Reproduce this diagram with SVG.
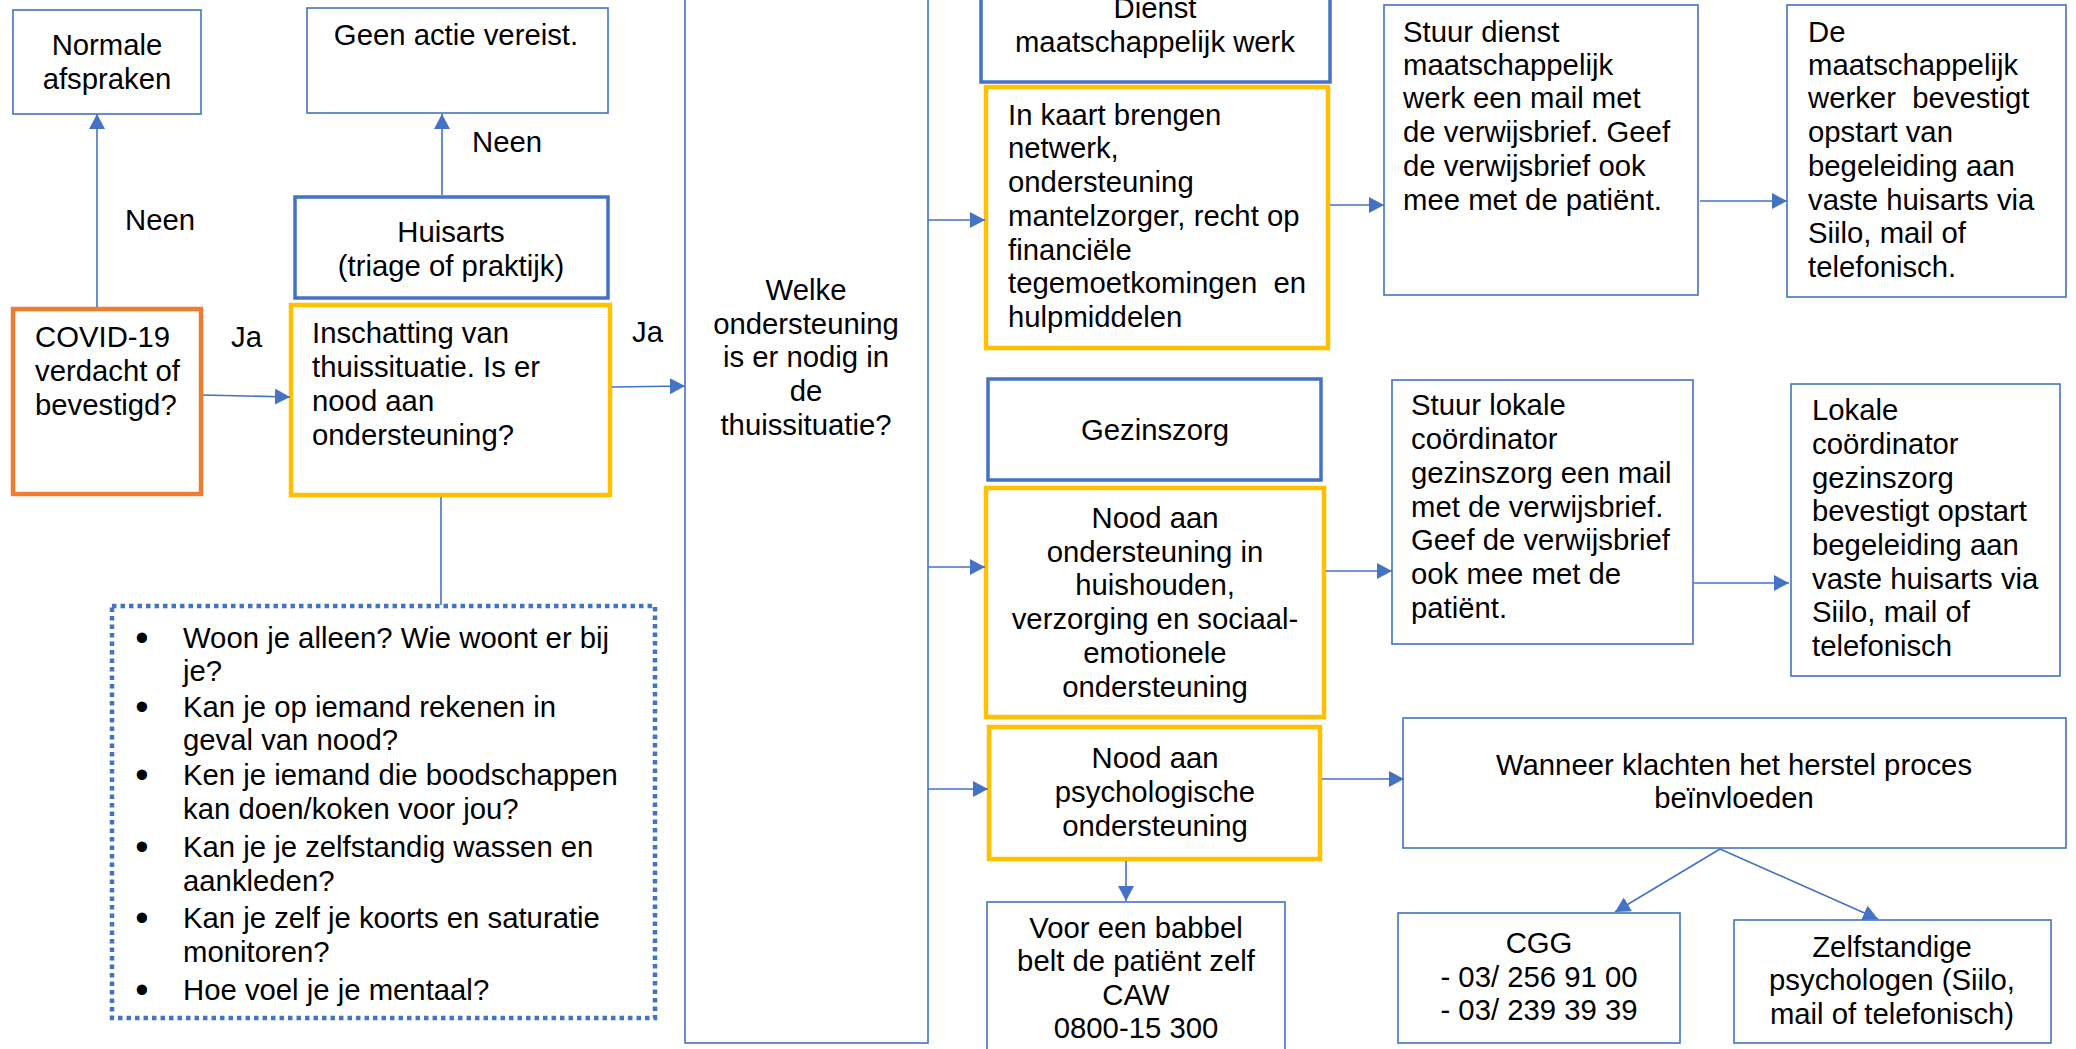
<svg xmlns="http://www.w3.org/2000/svg" width="2076" height="1049" viewBox="0 0 2076 1049">
<style>
.t{font-family:"Liberation Sans",Arial,sans-serif;font-size:29.3px;fill:#000}
.m{text-anchor:middle}
.bl{font-family:"Liberation Sans",Arial,sans-serif;font-size:38px;fill:#000;text-anchor:middle}
.b{fill:#fff;stroke:#4472C4;stroke-width:1.6}
.bk{fill:#fff;stroke:#4472C4;stroke-width:3.5}
.y{fill:#fff;stroke:#FFC000;stroke-width:4.5}
.o{fill:#fff;stroke:#ED7D31;stroke-width:4.5}
.d{fill:#fff;stroke:#4472C4;stroke-width:4.5;stroke-dasharray:4.5 4}
.c{fill:none;stroke:#4472C4;stroke-width:1.6}
.a{marker-end:url(#ah)}
</style>
<defs>
<marker id="ah" markerUnits="userSpaceOnUse" markerWidth="16" markerHeight="16" refX="15" refY="8" orient="auto"><path d="M0,0 L15,8 L0,16 z" fill="#4472C4"/></marker>
</defs>
<rect width="2076" height="1049" fill="#fff"/>

<g id="n_normale"><rect class="b" x="13" y="10" width="188" height="104"/>
<text class="t m" x="107"><tspan x="107" y="55">Normale</tspan><tspan x="107" y="89">afspraken</tspan></text></g>

<g id="n_geen"><rect class="b" x="307" y="8" width="301" height="105"/>
<text class="t m" x="456" y="45">Geen actie vereist.</text></g>

<g id="n_huisarts"><rect class="bk" x="295" y="197" width="313" height="101"/>
<text class="t m"><tspan x="451" y="242">Huisarts</tspan><tspan x="451" y="276">(triage of praktijk)</tspan></text></g>

<g id="n_covid"><rect class="o" x="13" y="309" width="188" height="185"/>
<text class="t"><tspan x="35" y="347">COVID-19</tspan><tspan x="35" y="381">verdacht of</tspan><tspan x="35" y="415">bevestigd?</tspan></text></g>

<g id="n_inschatting"><rect class="y" x="291" y="305" width="319" height="190"/>
<text class="t"><tspan x="312" y="343">Inschatting van</tspan><tspan x="312" y="377">thuissituatie. Is er</tspan><tspan x="312" y="411">nood aan</tspan><tspan x="312" y="445">ondersteuning?</tspan></text></g>

<g id="n_vragen"><rect class="d" x="112" y="606" width="543" height="412"/>
<text class="bl"><tspan x="142" y="651">•</tspan><tspan x="142" y="720">•</tspan><tspan x="142" y="788">•</tspan><tspan x="142" y="860">•</tspan><tspan x="142" y="931">•</tspan><tspan x="142" y="1003">•</tspan></text>
<text class="t"><tspan x="183" y="648">Woon je alleen? Wie woont er bij</tspan><tspan x="183" y="681">je?</tspan><tspan x="183" y="717">Kan je op iemand rekenen in</tspan><tspan x="183" y="750">geval van nood?</tspan><tspan x="183" y="785">Ken je iemand die boodschappen</tspan><tspan x="183" y="819">kan doen/koken voor jou?</tspan><tspan x="183" y="857">Kan je je zelfstandig wassen en</tspan><tspan x="183" y="891">aankleden?</tspan><tspan x="183" y="928">Kan je zelf je koorts en saturatie</tspan><tspan x="183" y="962">monitoren?</tspan><tspan x="183" y="1000">Hoe voel je je mentaal?</tspan></text></g>

<g id="n_welke"><rect class="b" x="685" y="-20" width="243" height="1063"/>
<text class="t m"><tspan x="806" y="300">Welke</tspan><tspan x="806" y="334">ondersteuning</tspan><tspan x="806" y="367">is er nodig in</tspan><tspan x="806" y="401">de</tspan><tspan x="806" y="435">thuissituatie?</tspan></text></g>

<g id="n_dienst"><rect class="bk" x="981" y="-35" width="349" height="117"/>
<text class="t m"><tspan x="1155" y="18">Dienst</tspan><tspan x="1155" y="52">maatschappelijk werk</tspan></text></g>

<g id="n_kaart"><rect class="y" x="986" y="87" width="342" height="261"/>
<text class="t" xml:space="preserve"><tspan x="1008" y="125">In kaart brengen</tspan><tspan x="1008" y="158">netwerk,</tspan><tspan x="1008" y="192">ondersteuning</tspan><tspan x="1008" y="226">mantelzorger, recht op</tspan><tspan x="1008" y="260">financiële</tspan><tspan x="1008" y="293">tegemoetkomingen  en</tspan><tspan x="1008" y="327">hulpmiddelen</tspan></text></g>

<g id="n_gezinszorg"><rect class="bk" x="988" y="379" width="333" height="101"/>
<text class="t m" x="1155" y="440">Gezinszorg</text></g>

<g id="n_huishouden"><rect class="y" x="986" y="488" width="338" height="229"/>
<text class="t m"><tspan x="1155" y="528">Nood aan</tspan><tspan x="1155" y="562">ondersteuning in</tspan><tspan x="1155" y="595">huishouden,</tspan><tspan x="1155" y="629">verzorging en sociaal-</tspan><tspan x="1155" y="663">emotionele</tspan><tspan x="1155" y="697">ondersteuning</tspan></text></g>

<g id="n_psych"><rect class="y" x="989" y="727" width="331" height="132"/>
<text class="t m"><tspan x="1155" y="768">Nood aan</tspan><tspan x="1155" y="802">psychologische</tspan><tspan x="1155" y="836">ondersteuning</tspan></text></g>

<g id="n_babbel"><rect class="b" x="987" y="902" width="298" height="170"/>
<text class="t m"><tspan x="1136" y="938">Voor een babbel</tspan><tspan x="1136" y="971">belt de patiënt zelf</tspan><tspan x="1136" y="1005">CAW</tspan><tspan x="1136" y="1038">0800-15 300</tspan></text></g>

<g id="n_stuur_dienst"><rect class="b" x="1384" y="5" width="314" height="290"/>
<text class="t"><tspan x="1403" y="42">Stuur dienst</tspan><tspan x="1403" y="75">maatschappelijk</tspan><tspan x="1403" y="108">werk een mail met</tspan><tspan x="1403" y="142">de verwijsbrief. Geef</tspan><tspan x="1403" y="176">de verwijsbrief ook</tspan><tspan x="1403" y="210">mee met de patiënt.</tspan></text></g>

<g id="n_de_mw"><rect class="b" x="1787" y="5" width="279" height="292"/>
<text class="t" xml:space="preserve"><tspan x="1808" y="42">De</tspan><tspan x="1808" y="75">maatschappelijk</tspan><tspan x="1808" y="108">werker  bevestigt</tspan><tspan x="1808" y="142">opstart van</tspan><tspan x="1808" y="176">begeleiding aan</tspan><tspan x="1808" y="210">vaste huisarts via</tspan><tspan x="1808" y="243">Siilo, mail of</tspan><tspan x="1808" y="277">telefonisch.</tspan></text></g>

<g id="n_stuur_lokale"><rect class="b" x="1392" y="380" width="301" height="264"/>
<text class="t"><tspan x="1411" y="415">Stuur lokale</tspan><tspan x="1411" y="449">coördinator</tspan><tspan x="1411" y="483">gezinszorg een mail</tspan><tspan x="1411" y="517">met de verwijsbrief.</tspan><tspan x="1411" y="550">Geef de verwijsbrief</tspan><tspan x="1411" y="584">ook mee met de</tspan><tspan x="1411" y="618">patiënt.</tspan></text></g>

<g id="n_lokale"><rect class="b" x="1791" y="384" width="269" height="292"/>
<text class="t"><tspan x="1812" y="420">Lokale</tspan><tspan x="1812" y="454">coördinator</tspan><tspan x="1812" y="488">gezinszorg</tspan><tspan x="1812" y="521">bevestigt opstart</tspan><tspan x="1812" y="555">begeleiding aan</tspan><tspan x="1812" y="589">vaste huisarts via</tspan><tspan x="1812" y="622">Siilo, mail of</tspan><tspan x="1812" y="656">telefonisch</tspan></text></g>

<g id="n_wanneer"><rect class="b" x="1403" y="718" width="663" height="130"/>
<text class="t m"><tspan x="1734" y="775">Wanneer klachten het herstel proces</tspan><tspan x="1734" y="808">beïnvloeden</tspan></text></g>

<g id="n_cgg"><rect class="b" x="1398" y="913" width="282" height="130"/>
<text class="t m"><tspan x="1539" y="953">CGG</tspan><tspan x="1539" y="987">- 03/ 256 91 00</tspan><tspan x="1539" y="1020">- 03/ 239 39 39</tspan></text></g>

<g id="n_zelf"><rect class="b" x="1734" y="920" width="317" height="123"/>
<text class="t m"><tspan x="1892" y="957">Zelfstandige</tspan><tspan x="1892" y="990">psychologen (Siilo,</tspan><tspan x="1892" y="1024">mail of telefonisch)</tspan></text></g>

<g id="connectors">
<line class="c a" x1="97" y1="307" x2="97" y2="114"/>
<line class="c a" x1="442" y1="195" x2="442" y2="114"/>
<line class="c a" x1="203" y1="395" x2="290" y2="397"/>
<line class="c a" x1="612" y1="387" x2="685" y2="386"/>
<line class="c" x1="441" y1="497" x2="441" y2="605"/>
<line class="c a" x1="928" y1="220" x2="985" y2="220"/>
<line class="c a" x1="928" y1="567" x2="985" y2="567"/>
<line class="c a" x1="928" y1="789" x2="988" y2="789"/>
<line class="c a" x1="1126" y1="861" x2="1126" y2="901"/>
<line class="c a" x1="1330" y1="205" x2="1384" y2="205"/>
<line class="c a" x1="1700" y1="201" x2="1787" y2="201"/>
<line class="c a" x1="1326" y1="571" x2="1392" y2="571"/>
<line class="c a" x1="1694" y1="583" x2="1789" y2="583"/>
<line class="c a" x1="1322" y1="779" x2="1404" y2="779"/>
<line class="c a" x1="1720" y1="849" x2="1615" y2="912"/>
<line class="c a" x1="1720" y1="849" x2="1878" y2="919"/>
<text class="t" x="125" y="230">Neen</text>
<text class="t" x="472" y="152">Neen</text>
<text class="t" x="231" y="347">Ja</text>
<text class="t" x="632" y="342">Ja</text>
</g>
</svg>
